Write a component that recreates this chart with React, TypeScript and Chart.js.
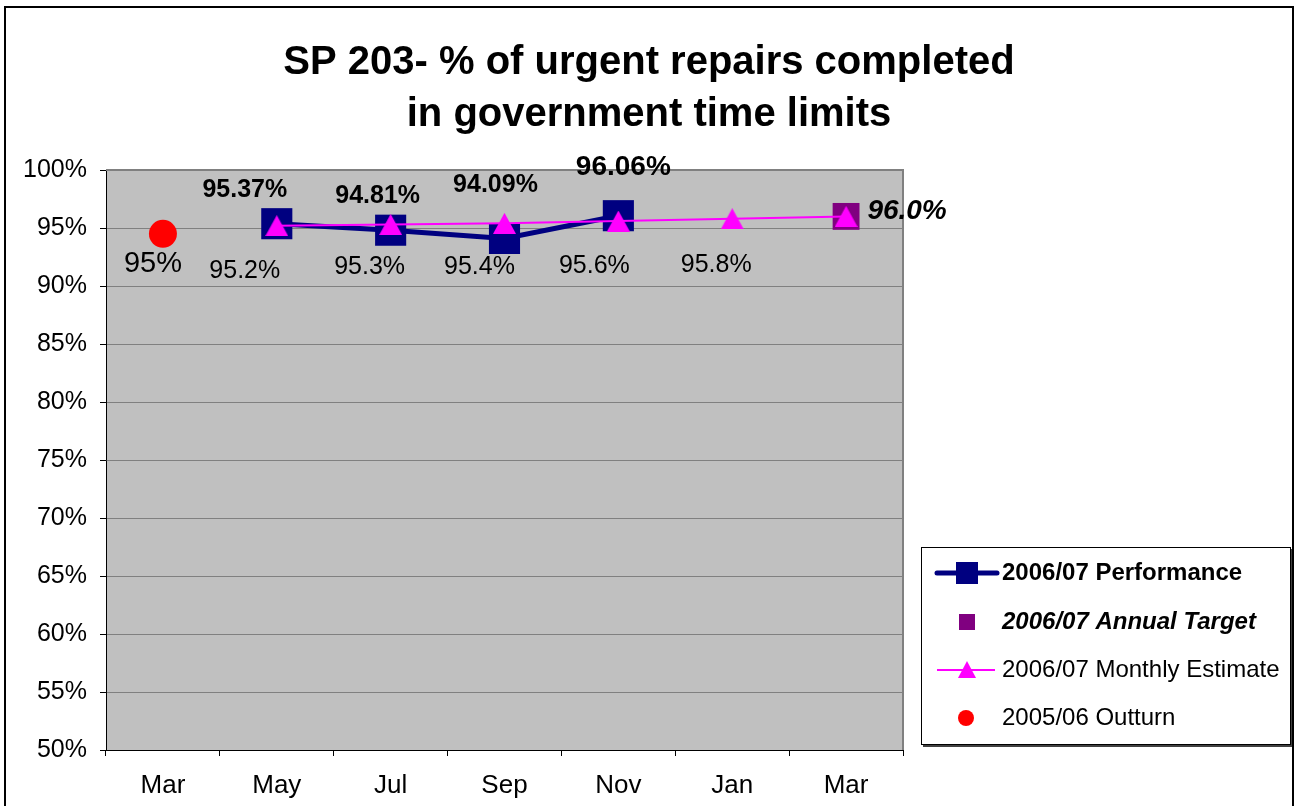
import { useEffect, useRef } from 'react';
import { Chart, registerables } from 'chart.js';

Chart.register(...registerables);

// ---------- data ----------
const categories = ['Mar', 'May', 'Jul', 'Sep', 'Nov', 'Jan', 'Mar'];
const performance = [null, 95.37, 94.81, 94.09, 96.06, null, null];
const annualTarget = [null, null, null, null, null, null, 96.0];
const monthlyEstimate = [null, 95.2, 95.3, 95.4, 95.6, 95.8, 96.0];
const outturn = [94.5, null, null, null, null, null, null];
const yTickValues = [50, 55, 60, 65, 70, 75, 80, 85, 90, 95, 100];
const titleLines = ['SP 203- % of urgent repairs completed', 'in government time limits'];
const seriesNames = ['2006/07 Monthly Estimate', '2006/07 Performance', '2006/07 Annual Target', '2005/06 Outturn'];

// ---------- styles ----------
const FAMILY = "'Liberation Sans', Arial, Helvetica, sans-serif";
const NAVY = '#000080';
const MAGENTA = '#FF00FF';
const PURPLE = '#800080';
const RED = '#FF0000';

// label styling per dataset index: font, decimals, per-point offsets [dx, dy] and sizes
const labelStyles: any[] = [
  {
    style: 'normal', weight: 'normal', decimals: 1,
    sizes: [0, 25, 25, 25, 25, 25, 0],
    offsets: [null, [-32, 45], [-21, 43], [-25, 44], [-24, 45], [-16, 46], null],
  },
  {
    style: 'normal', weight: 'bold', decimals: 2,
    sizes: [0, 25, 25, 25, 28, 0, 0],
    offsets: [null, [-32, -34], [-13, -34], [-9, -53], [5, -48], null, null],
  },
  {
    style: 'italic', weight: 'bold', decimals: 1,
    sizes: [0, 0, 0, 0, 0, 0, 28],
    offsets: [null, null, null, null, null, null, [61, -5]],
  },
  {
    style: 'normal', weight: 'normal', decimals: 0,
    sizes: [29, 0, 0, 0, 0, 0, 0],
    offsets: [[-10, 30], null, null, null, null, null, null],
  },
];

const legendLayout = {
  gapFromPlot: 18, top: 541, width: 370, height: 198,
  rows: [26, 75, 123, 171], lineFrom: 16, lineTo: 76, symbolX: 46, textX: 81,
};
const legendOrder = [1, 2, 0, 3];
const legendFonts = [
  `normal 24px ${FAMILY}`,
  `bold 24px ${FAMILY}`,
  `italic bold 24px ${FAMILY}`,
  `normal 24px ${FAMILY}`,
];

const W = 1290;
const H = 800;

function makeTriangle(w: number, h: number, color: string) {
  const c = document.createElement('canvas');
  c.width = w;
  c.height = h;
  const g = c.getContext('2d') as CanvasRenderingContext2D;
  g.fillStyle = color;
  g.beginPath();
  g.moveTo(w / 2, 0);
  g.lineTo(w, h);
  g.lineTo(0, h);
  g.closePath();
  g.fill();
  return c;
}

const backgroundPlugin = {
  id: 'plotBackground',
  beforeDraw(chart: any) {
    const { ctx, chartArea: a } = chart;
    ctx.save();
    ctx.fillStyle = '#FFFFFF';
    ctx.fillRect(0, 0, chart.width, chart.height);
    ctx.fillStyle = '#C0C0C0';
    ctx.fillRect(a.left, a.top, a.right - a.left, a.bottom - a.top);
    ctx.restore();
  },
  beforeDatasetsDraw(chart: any) {
    const { ctx, chartArea: a } = chart;
    ctx.save();
    ctx.strokeStyle = '#808080';
    ctx.lineWidth = 2;
    ctx.beginPath();
    ctx.moveTo(a.right, a.top - 1);
    ctx.lineTo(a.right, a.bottom);
    ctx.moveTo(a.left, a.top);
    ctx.lineTo(a.right, a.top);
    ctx.stroke();
    ctx.restore();
  },
};

const labelsPlugin = {
  id: 'pointLabels',
  afterDatasetsDraw(chart: any) {
    const { ctx } = chart;
    ctx.save();
    ctx.fillStyle = '#000';
    ctx.textAlign = 'center';
    ctx.textBaseline = 'middle';
    chart.data.datasets.forEach((ds: any, i: number) => {
      const st = labelStyles[i];
      const meta = chart.getDatasetMeta(i);
      ds.data.forEach((v: number | null, j: number) => {
        const off = st.offsets[j];
        if (v == null || !off) return;
        const el = meta.data[j];
        ctx.font = `${st.style} ${st.weight} ${st.sizes[j]}px ${FAMILY}`;
        ctx.fillText(`${v.toFixed(st.decimals)}%`, el.x + off[0], el.y + off[1]);
      });
    });
    ctx.restore();
  },
};

function drawSymbol(ctx: CanvasRenderingContext2D, idx: number, x0: number, cx: number, x1: number, cy: number) {
  ctx.save();
  if (idx === 1) {
    ctx.strokeStyle = NAVY;
    ctx.lineWidth = 5;
    ctx.lineCap = 'round';
    ctx.beginPath();
    ctx.moveTo(x0, cy);
    ctx.lineTo(x1, cy);
    ctx.stroke();
    ctx.fillStyle = NAVY;
    ctx.fillRect(cx - 11, cy - 11, 22, 22);
  } else if (idx === 2) {
    ctx.fillStyle = PURPLE;
    ctx.fillRect(cx - 8, cy - 8, 16, 16);
  } else if (idx === 0) {
    ctx.strokeStyle = MAGENTA;
    ctx.lineWidth = 2;
    ctx.beginPath();
    ctx.moveTo(x0, cy);
    ctx.lineTo(x1 - 2, cy);
    ctx.stroke();
    ctx.fillStyle = MAGENTA;
    ctx.beginPath();
    ctx.moveTo(cx, cy - 9);
    ctx.lineTo(cx + 9, cy + 8);
    ctx.lineTo(cx - 9, cy + 8);
    ctx.closePath();
    ctx.fill();
  } else {
    ctx.fillStyle = RED;
    ctx.beginPath();
    ctx.arc(cx - 1, cy, 8, 0, Math.PI * 2);
    ctx.fill();
  }
  ctx.restore();
}

const legendPlugin = {
  id: 'customLegend',
  afterDraw(chart: any) {
    const { ctx, chartArea: a } = chart;
    const L = legendLayout;
    const left = a.right + L.gapFromPlot;
    const top = L.top;
    ctx.save();
    ctx.fillStyle = '#404040';
    ctx.fillRect(left + 2, top + 2, L.width, L.height);
    ctx.fillStyle = '#FFFFFF';
    ctx.fillRect(left, top, L.width, L.height);
    ctx.strokeStyle = '#000';
    ctx.lineWidth = 1;
    ctx.strokeRect(left + 0.5, top + 0.5, L.width - 1, L.height - 1);
    ctx.textAlign = 'left';
    ctx.textBaseline = 'middle';
    ctx.fillStyle = '#000';
    legendOrder.forEach((dsIdx, row) => {
      const cy = top + L.rows[row];
      drawSymbol(ctx, dsIdx, left + L.lineFrom, left + L.symbolX, left + L.lineTo, cy);
      ctx.font = legendFonts[dsIdx];
      ctx.fillText(seriesNames[dsIdx], left + L.textX, cy);
    });
    ctx.restore();
    ctx.save();
    ctx.strokeStyle = '#000';
    ctx.lineWidth = 2;
    ctx.strokeRect(1, 1, chart.width - 2, chart.height + 10);
    ctx.restore();
  },
};

export default function App() {
  const ref = useRef<HTMLCanvasElement>(null);

  useEffect(() => {
    const triangle = makeTriangle(23, 21, MAGENTA);
    const chart = new Chart(ref.current as HTMLCanvasElement, {
      type: 'line',
      data: {
        labels: categories,
        datasets: [
          {
            label: seriesNames[0],
            data: monthlyEstimate,
            borderColor: MAGENTA,
            backgroundColor: MAGENTA,
            borderWidth: 2,
            pointStyle: triangle,
            pointRadius: 12,
            pointBorderWidth: 0,
            order: 0,
          },
          {
            label: seriesNames[1],
            data: performance,
            borderColor: NAVY,
            backgroundColor: NAVY,
            borderWidth: 5,
            pointStyle: 'rect',
            pointRadius: 22,
            pointBorderWidth: 0,
            order: 1,
          },
          {
            label: seriesNames[2],
            data: annualTarget,
            showLine: false,
            borderColor: PURPLE,
            backgroundColor: PURPLE,
            pointStyle: 'rect',
            pointRadius: 19,
            pointBorderWidth: 0,
            order: 2,
          },
          {
            label: seriesNames[3],
            data: outturn,
            showLine: false,
            borderColor: RED,
            backgroundColor: RED,
            pointStyle: 'circle',
            pointRadius: 14,
            pointBorderWidth: 0,
            order: 3,
          },
        ] as any,
      },
      options: {
        responsive: false,
        animation: false,
        events: [],
        layout: { padding: { left: 0, right: 0, top: 0, bottom: 0 } },
        plugins: {
          legend: { display: false },
          tooltip: { enabled: false },
          title: {
            display: true,
            text: titleLines,
            color: '#000',
            font: { family: FAMILY, size: 40, weight: 'bold', lineHeight: 1.3 },
            padding: { top: 31, bottom: 29 },
          },
        },
        scales: {
          x: {
            offset: true,
            afterFit: (s: any) => { s.height = 56; },
            grid: { offset: true, drawOnChartArea: false, tickColor: '#000', tickLength: 6 },
            border: { color: '#000', width: 1 },
            ticks: { font: { family: FAMILY, size: 26 }, color: '#000', padding: 14, maxRotation: 0, autoSkip: false },
          },
          y: {
            min: 50,
            max: 100,
            afterFit: (s: any) => { s.width = 102; },
            afterBuildTicks: (s: any) => { s.ticks = yTickValues.map((v) => ({ value: v })); },
            grid: { color: '#808080', tickColor: '#000', tickLength: 6, lineWidth: 1 },
            border: { color: '#000', width: 1 },
            ticks: { font: { family: FAMILY, size: 25 }, color: '#000', padding: 13, callback: (v: any) => `${v}%` },
          },
          y2: {
            position: 'right',
            display: true,
            afterFit: (s: any) => { s.width = 391; },
            grid: { display: false },
            border: { display: false },
            ticks: { display: false },
          },
        },
      } as any,
      plugins: [backgroundPlugin, labelsPlugin, legendPlugin],
    });
    return () => chart.destroy();
  }, []);

  return (
    <div style={{ position: 'absolute', left: 4, top: 6, width: W, height: H }}>
      <canvas ref={ref} width={W} height={H} style={{ display: 'block', width: W, height: H }} />
    </div>
  );
}
